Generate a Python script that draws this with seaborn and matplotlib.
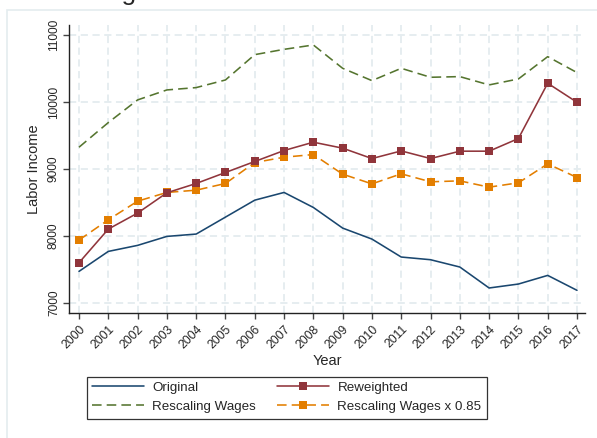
import matplotlib
matplotlib.use("Agg")
import matplotlib.pyplot as plt
from matplotlib.patches import Rectangle
from matplotlib.lines import Line2D
import seaborn as sns
import pandas as pd

years = list(range(2000, 2018))
original = [7472, 7770, 7860, 7994, 8029, 8282, 8535, 8650, 8426, 8118,
            7954, 7686, 7646, 7537, 7224, 7283, 7412, 7189]
reweighted = [7601, 8103, 8342, 8645, 8784, 8948, 9112, 9276, 9400, 9311,
              9156, 9270, 9156, 9266, 9266, 9455, 10280, 9996]
rescaling = [9325, 9693, 10031, 10180, 10215, 10329, 10707, 10786, 10851, 10503,
             10319, 10503, 10369, 10379, 10255, 10344, 10677, 10439]
rescaling85 = [7939, 8242, 8520, 8650, 8684, 8784, 9097, 9176, 9216, 8923,
               8778, 8928, 8809, 8823, 8729, 8794, 9077, 8873]
series_names = ["Original", "Reweighted", "Rescaling Wages", "Rescaling Wages x 0.85"]
y_ticks = [7000, 8000, 9000, 10000, 11000]

sns.set_theme(style="white")
plt.rcParams["font.family"] = ["Liberation Sans", "DejaVu Sans"]

W, H = 597, 438
fig = plt.figure(figsize=(W / 100, H / 100), dpi=100)
fig.patch.set_facecolor("white")

# outer light frame
fig.patches.append(Rectangle((7 / W, -0.2), 1.2, 1.2 - 10 / H,
                             transform=fig.transFigure, fill=False,
                             edgecolor="#e4ecef", lw=1.2, zorder=0))

ax = fig.add_axes([69 / W, 1 - 313 / H, (585 - 69) / W, (313 - 25) / H])
ax.set_facecolor("white")

df = pd.DataFrame({"Year": years, "Original": original, "Reweighted": reweighted,
                   "Rescaling Wages": rescaling, "Rescaling Wages x 0.85": rescaling85})

c_navy, c_maroon, c_green, c_orange = "#1a476f", "#90353b", "#55752f", "#e37e00"
lw = 1.15
dash = (0, (6, 3.2))
sns.lineplot(data=df, x="Year", y="Rescaling Wages", ax=ax, color=c_green, lw=lw,
             linestyle=dash, zorder=3)
sns.lineplot(data=df, x="Year", y="Original", ax=ax, color=c_navy, lw=lw, zorder=3)
sns.lineplot(data=df, x="Year", y="Rescaling Wages x 0.85", ax=ax, color=c_orange, lw=lw,
             linestyle=dash, marker="s", markersize=5.6, markeredgewidth=0, zorder=4)
sns.lineplot(data=df, x="Year", y="Reweighted", ax=ax, color=c_maroon, lw=lw,
             marker="s", markersize=5.6, markeredgewidth=0, zorder=5)

ax.set_xlim(2000 - 10 / 29.29, 2017 + 8 / 29.29)
ax.set_ylim(7000 - 10 / 0.067, 11000 + 10 / 0.067)
ax.set_xticks(years)
ax.set_xticklabels([str(y) for y in years], rotation=45, ha="right",
                   rotation_mode="anchor", fontsize=8.8)
ax.set_yticks(y_ticks)
ax.set_yticklabels([str(v) for v in y_ticks], rotation=90, va="center", fontsize=8.6)

grid_kw = dict(color="#e4ecef", lw=1.3, linestyle=(0, (4, 2.5)), zorder=1)
for v in y_ticks:
    ax.axhline(v, **grid_kw)
for y in years:
    ax.axvline(y, **grid_kw)

for s in ["top", "right"]:
    ax.spines[s].set_visible(False)
for s in ["left", "bottom"]:
    ax.spines[s].set_color("#222222")
    ax.spines[s].set_linewidth(1.0)
ax.tick_params(axis="both", direction="out", length=4.5, width=1.0, color="#444444",
               left=True, bottom=True)
ax.tick_params(axis="y", pad=2)
ax.tick_params(axis="x", pad=3)

ax.set_xlabel("Year", fontsize=10.5, labelpad=2)
ax.set_ylabel("Labor Income", fontsize=10.5, labelpad=5)

handles = [
    Line2D([], [], color=c_navy, lw=lw),
    Line2D([], [], color=c_green, lw=lw, linestyle=dash),
    Line2D([], [], color=c_maroon, lw=lw, marker="s", markersize=5.6, markeredgewidth=0),
    Line2D([], [], color=c_orange, lw=lw, linestyle=dash, marker="s",
           markersize=5.6, markeredgewidth=0),
]
labels = [series_names[0], series_names[2], series_names[1], series_names[3]]
leg = fig.legend(handles, labels, ncol=2, loc="center",
                 bbox_to_anchor=((88 + 486) / 2 / W, 1 - (373 + 422) / 2 / H),
                 fontsize=9.6, frameon=True, fancybox=False, handlelength=3.9,
                 columnspacing=1.6, handletextpad=0.6, labelspacing=0.5,
                 borderpad=0.4, edgecolor="black")
leg.get_frame().set_linewidth(0.9)

fig.text(186 / W, 1.0, "Average Labor Income", ha="center", va="baseline",
         fontsize=19)

fig.savefig("out.png", dpi=100, facecolor="white")
